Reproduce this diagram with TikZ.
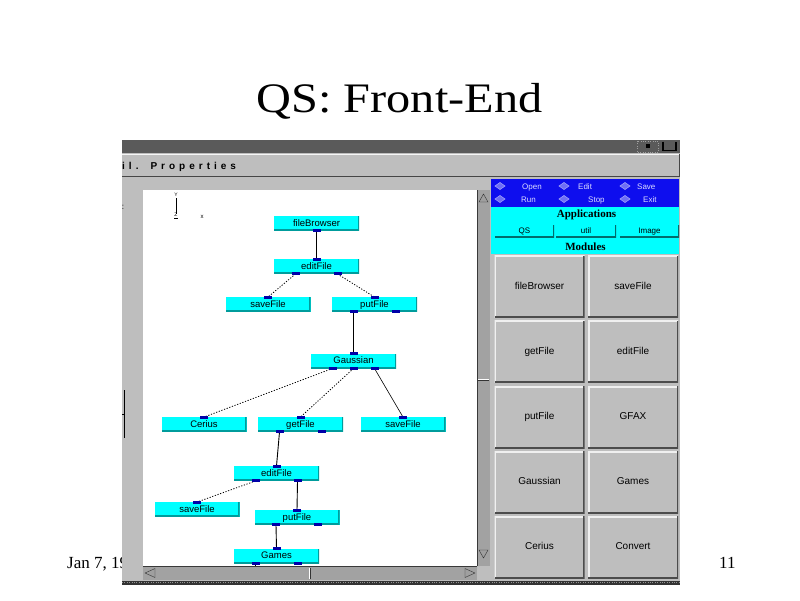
\documentclass[tikz,border=0pt]{standalone}
\usepackage{fontspec}
\setmainfont{Liberation Serif}
\newfontfamily\uifont{Liberation Sans}
\newfontfamily\menufont[LetterSpace=40]{Liberation Sans}
\usepackage{graphicx}
\usepackage{tikz}
\usetikzlibrary{positioning}
\definecolor{winbar}{HTML}{5A5A5A}
\definecolor{wingray}{HTML}{BEBEBE}
\definecolor{scrollgray}{HTML}{A2A2A2}
\definecolor{toolblue}{HTML}{0E0EEE}
\definecolor{boxcyan}{HTML}{00FFFF}
\definecolor{boxedge}{HTML}{009C9C}
\definecolor{portblue}{HTML}{0000A8}
\definecolor{tooltxt}{HTML}{DCDCFF}

\begin{document}
\begin{tikzpicture}[x=1pt, y=-1pt, every node/.style={inner sep=0pt},
    mod/.style={fill=boxcyan, minimum width=85pt, minimum height=14.5pt,
      text height=6.5pt, text depth=1.5pt,
      font=\uifont\fontsize{9.5}{10}\selectfont,
      path picture={\draw[boxedge, line width=3pt]
        (path picture bounding box.north east) -- (path picture bounding box.south east)
        -- (path picture bounding box.south west);}},
    port/.style={fill=portblue},
    link/.style={line width=0.9pt},
    thinlink/.style={line width=0.6pt},
    dotlink/.style={line width=0.8pt, dash pattern=on 1.2pt off 1.6pt},
    btn/.style={fill=wingray, minimum width=90pt, minimum height=62pt,
      text height=7pt, text depth=1.5pt,
      font=\uifont\fontsize{10}{11}\selectfont,
      path picture={\draw[white!88!gray, line width=3pt]
        (path picture bounding box.south west) -- (path picture bounding box.north west)
        -- (path picture bounding box.north east);
        \draw[gray!60!black, line width=3pt]
        (path picture bounding box.north east) -- (path picture bounding box.south east)
        -- (path picture bounding box.south west);}},
    appbtn/.style={fill=boxcyan, minimum height=13pt, text height=5.5pt, text depth=1.5pt,
      font=\uifont\fontsize{8}{9}\selectfont,
      path picture={\draw[boxedge!70!black, line width=3pt]
        (path picture bounding box.north east) -- (path picture bounding box.south east)
        -- (path picture bounding box.south west);}},
    tooltext/.style={anchor=base west, text=tooltxt, font=\uifont\fontsize{8}{9}\selectfont},
    dia/.style={draw=tooltxt!70!toolblue, fill=toolblue!60!white, line width=0.6pt}]

\useasboundingbox (0,0) rectangle (800,600);
\fill[white] (0,0) rectangle (800,600);

% slide
\node[anchor=base, font=\fontsize{42}{44}\selectfont] (title) at (399.5,112) {\scalebox{1.15}[1]{QS: Front-End}};
\node[anchor=base west, font=\fontsize{17}{18}\selectfont] (date) at (67,568) {Jan 7, 19};
\node[anchor=base west, font=\fontsize{17}{18}\selectfont] (page) at (719,568) {11};

% window
\fill[wingray] (122,140) rectangle (680,584);
\fill[winbar] (122,140) rectangle (680,153);
\draw[gray!75, dotted] (637,141) rectangle (658,152);
\fill[black] (646,144) rectangle (650,147.5);
\draw[line width=1.2pt] (663,141.5) -- (663,150.5) -- (676,150.5) -- (676,141.5);
\draw[white!92!gray] (122,154.5) -- (680,154.5);
\draw[gray!55!black, line width=1pt] (122,176) -- (679,176) -- (679,154);
\node[anchor=base west, font=\menufont\bfseries\fontsize{10}{11}\selectfont] (menu) at (122,169) {il.\hspace{12pt}Properties};
\node[font=\uifont\fontsize{8}{9}\selectfont] (colon) at (123,207) {:};
\draw (124,390) -- (124,438);
\draw (122,414) -- (124,414);

% canvas and scrollbars
\fill[white] (143,190) rectangle (477,566);
\fill[scrollgray] (477,190) rectangle (490,566);
\draw[gray!45!black] (477.5,190) -- (477.5,566);
\fill[scrollgray] (143,566) rectangle (477,580);
\draw[gray!45!black] (143,566.5) -- (477,566.5);
\draw[gray!40!black, fill=gray!75] (483.5,194) -- (479,202) -- (488,202) -- cycle;
\draw[gray!40!black, fill=gray!75] (483.5,558) -- (479,550) -- (488,550) -- cycle;
\draw[white] (478,379) -- (489,379);
\draw[gray!40!black] (478,380.5) -- (489,380.5);
\draw[gray!40!black, fill=gray!75] (145,573) -- (155,568.5) -- (155,577.5) -- cycle;
\draw[gray!40!black, fill=gray!75] (475,573) -- (465,568.5) -- (465,577.5) -- cycle;
\draw[white] (309,567.5) -- (309,579);
\draw[gray!40!black] (310.5,567.5) -- (310.5,579);
\fill[gray!40!black] (122,581) rectangle (680,585);
\draw[gray!85, dotted] (122,581.8) -- (680,581.8);

% axes
\node[font=\uifont\fontsize{5}{5}\selectfont] (ay) at (176,195) {Y};
\draw (176,198) -- (176,214);
\node[font=\uifont\fontsize{5}{5}\selectfont] (az) at (176,216) {\underline{Z}};
\node[font=\uifont\fontsize{6}{6}\selectfont] (ax) at (202,217) {x};

% right panel
\fill[toolblue] (491,179) rectangle (679,207);
\foreach \x in {500,564,625}
  \foreach \y in {186,199}
    \draw[dia] (\x,\y) +(-5,0) -- +(0,-3.5) -- +(5,0) -- +(0,3.5) -- cycle;
\node[tooltext] (open) at (522,189) {Open};
\node[tooltext] (edit) at (578,189) {Edit};
\node[tooltext] (save) at (637,189) {Save};
\node[tooltext] (run) at (521,202.5) {Run};
\node[tooltext] (stop) at (588,202.5) {Stop};
\node[tooltext] (exit) at (643,202.5) {Exit};
\fill[boxcyan] (491,207) rectangle (679,254);
\node[font=\bfseries\fontsize{11}{12}\selectfont] (apps) at (586.5,214.5) {Applications};
\node[appbtn, minimum width=59pt] (qs) at (524.5,231) {QS};
\node[appbtn, minimum width=60pt] (util) at (586,231) {util};
\node[appbtn, minimum width=59pt] (img) at (649.5,231) {Image};
\node[font=\bfseries\fontsize{11}{12}\selectfont] (mods) at (585.5,246.5) {Modules};
\foreach \t/\x/\y/\n in {fileBrowser/539.5/286.5/m1, saveFile/633/286.5/m2,
    getFile/539.5/351.5/m3, editFile/633/351.5/m4, putFile/539.5/417/m5, GFAX/633/417/m6,
    Gaussian/539.5/482/m7, Games/633/482/m8, Cerius/539.5/547/m9, Convert/633/547/m10}
  \node[btn] (\n) at (\x,\y) {\t};

% module graph
\node[mod] (fb) at (316.5,223.5) {fileBrowser};
\node[mod] (ef) at (316.5,266.5) {editFile};
\node[mod] (sfa) at (268,304.5) {saveFile};
\node[mod] (pf) at (374.5,304.5) {putFile};
\node[mod] (ga) at (353.5,361) {Gaussian};
\node[mod] (ce) at (204,424.5) {Cerius};
\node[mod] (gf) at (300.5,424.5) {getFile};
\node[mod] (sfb) at (403,424.5) {saveFile};
\node[mod] (efb) at (276.5,473.5) {editFile};
\node[mod] (sfc) at (197,509.5) {saveFile};
\node[mod] (pfb) at (297,517.5) {putFile};
\node[mod] (gm) at (276.5,556) {Games};
\coordinate (gmout) at (255.5,566);

\draw[link] (fb.south) -- (ef.north);
\draw[dotlink] ([xshift=-21pt]ef.south) -- (sfa.north);
\draw[dotlink] ([xshift=21pt]ef.south) -- (pf.north);
\draw[link] ([xshift=-21pt]pf.south) -- (ga.north);
\draw[dotlink] ([xshift=-21pt]ga.south) -- (ce.north);
\draw[dotlink] (ga.south) -- (gf.north);
\draw[thinlink] ([xshift=21pt]ga.south) -- (sfb.north);
\draw[link] ([xshift=-21pt]gf.south) -- (efb.north);
\draw[dotlink] ([xshift=-21pt]efb.south) -- (sfc.north);
\draw[link] ([xshift=21pt]efb.south) -- (pfb.north);
\draw[link] ([xshift=-21pt]pfb.south) -- (gm.north);
\draw[link] ([xshift=-21pt]gm.south) -- (gmout);

\foreach \n in {ef,sfa,pf,ga,ce,gf,sfb,efb,sfc,pfb,gm}
  \fill[port] (\n.north) +(-4,-1.5) rectangle +(4,1.5);
\foreach \n/\d in {fb/0,ef/-21,ef/21,pf/-21,pf/21,ga/-21,ga/0,ga/21,gf/-21,gf/21,
    efb/-21,efb/21,pfb/-21,pfb/21,gm/-21,gm/21}
  \fill[port] ([xshift=\d pt]\n.south) +(-4,-1.5) rectangle +(4,1.5);
\end{tikzpicture}
\end{document}
